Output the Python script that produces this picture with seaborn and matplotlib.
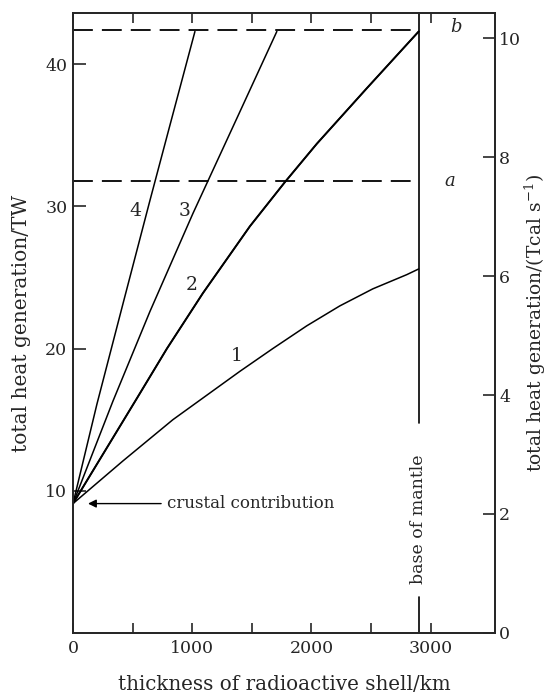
import numpy as np
import pandas as pd
import matplotlib
matplotlib.use("Agg")
import matplotlib.pyplot as plt
import seaborn as sns

# ---- data ----
curve1_x = [0, 419, 838, 1400, 1676, 1961, 2238, 2515, 2800, 2900]
curve1_y = [9.1, 12.1, 15.0, 18.4, 20.0, 21.6, 23.0, 24.2, 25.2, 25.6]
curve2_x = [0, 536, 788, 1090, 1484, 1777, 2045, 2464, 2900]
curve2_y = [9.1, 16.5, 20.0, 23.9, 28.6, 31.7, 34.4, 38.3, 42.3]
curve3_x = [0, 335, 645, 1006, 1375, 1710]
curve3_y = [9.1, 16.3, 22.6, 29.5, 36.2, 42.3]
curve4_x = [0, 201, 427, 645, 813, 1023]
curve4_y = [9.1, 16.1, 23.4, 30.4, 35.7, 42.3]
curve_names = ["1", "2", "3", "4"]
label_pos = {"1": (1375, 19.5), "2": (997, 24.5), "3": (939, 29.7), "4": (520, 29.7)}
level_a = 31.8
level_b = 42.4
base_of_mantle = 2900
crust_value = 9.1
TW_PER_TCAL = 4.184
x_major = [0, 1000, 2000, 3000]
x_ticks = [0, 500, 1000, 1500, 2000, 2500, 3000]
y_ticks = [10, 20, 30, 40]
y2_ticks = [0, 2, 4, 6, 8, 10]

rows = []
for name, xs, ys in zip(curve_names, [curve1_x, curve2_x, curve3_x, curve4_x],
                        [curve1_y, curve2_y, curve3_y, curve4_y]):
    for x, y in zip(xs, ys):
        rows.append({"curve": name, "x": x, "y": y})
df = pd.DataFrame(rows)

sns.set_style("ticks")
plt.rcParams["font.family"] = ["DejaVu Serif"]
plt.rcParams["mathtext.fontset"] = "dejavuserif"

fig = plt.figure(figsize=(5.5, 6.94), dpi=100)
ax = fig.add_axes([0.1327, 0.0879, 0.9 - 0.1327, 0.9813 - 0.0879])

sns.lineplot(data=df, x="x", y="y", units="curve", estimator=None, sort=False,
             color="black", linewidth=1.1, ax=ax, legend=False)
# curve 2 slightly heavier
sub2 = df[df.curve == "2"]
sns.lineplot(data=sub2, x="x", y="y", color="black", linewidth=1.4, ax=ax,
             legend=False, sort=False, estimator=None)

xmax, ymax = 3540, 43.6
ax.set_xlim(0, xmax)
ax.set_ylim(0, ymax)

# dashed levels
for lev in (level_a, level_b):
    ax.plot([0, base_of_mantle], [lev, lev], color="black", linewidth=1.3,
            dashes=(11, 5))
ax.text(3115, level_a, "a", style="italic", fontsize=13, ha="left", va="center")
ax.text(3165, level_b + 0.2, "b", style="italic", fontsize=13, ha="left", va="center")

# base of mantle
ax.plot([base_of_mantle, base_of_mantle], [14.8, ymax], color="black", linewidth=1.2)
ax.plot([base_of_mantle, base_of_mantle], [0, 2.5], color="black", linewidth=1.2)
ax.text(base_of_mantle, 8.0, "base of mantle", rotation=90, ha="center",
        va="center", fontsize=12.5)

# curve labels
for name, (lx, ly) in label_pos.items():
    ax.text(lx, ly, name, fontsize=13.5, ha="center", va="center")

# crustal contribution arrow
ax.annotate("crustal contribution", xy=(126, crust_value), xytext=(790, crust_value),
            fontsize=12, ha="left", va="center",
            arrowprops=dict(arrowstyle="-|>", color="black", lw=1.0,
                            mutation_scale=12, shrinkA=2, shrinkB=0))

ax.set_xticks(x_ticks)
ax.set_xticklabels([str(t) if t in x_major else "" for t in x_ticks])
ax.set_yticks(y_ticks)
ax.tick_params(axis="both", direction="in", labelsize=12.5, width=1.2)
ax.tick_params(axis="x", length=7, top=True, pad=5)
ax.tick_params(axis="y", length=9, pad=4)
for s in ax.spines.values():
    s.set_linewidth(1.3)
    s.set_visible(True)

ax.set_xlabel("thickness of radioactive shell/km", fontsize=14.3, labelpad=13)
ax.set_ylabel("total heat generation/TW", fontsize=14.5, labelpad=10)

ax2 = ax.twinx()
ax2.set_ylim(0, ymax / TW_PER_TCAL)
ax2.set_yticks(y2_ticks)
ax2.tick_params(axis="y", direction="in", length=9, labelsize=12.5, width=1.2, pad=3)
ax2.set_ylabel("total heat generation/(Tcal s$^{-1}$)", fontsize=13.5, labelpad=1)
for s in ax2.spines.values():
    s.set_linewidth(1.3)

fig.savefig("out.png", dpi=100)
